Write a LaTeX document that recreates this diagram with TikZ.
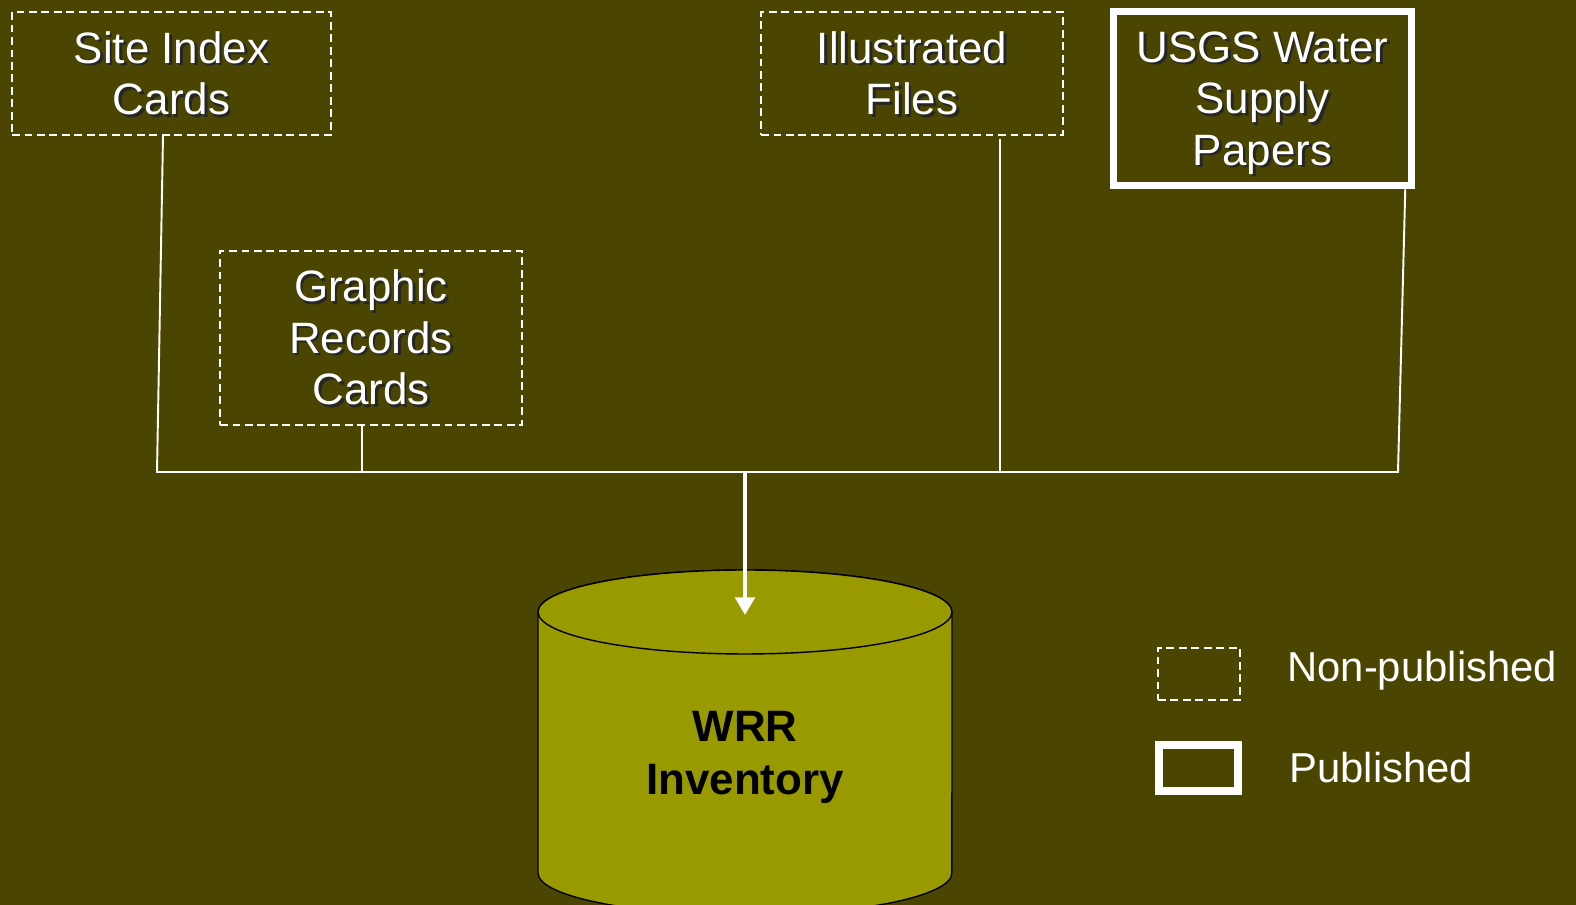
\documentclass[tikz,border=0pt]{standalone}
\usepackage{fontspec}
\setmainfont{Liberation Sans}
\usetikzlibrary{arrows.meta}
\definecolor{olivebg}{RGB}{74,69,0}
\definecolor{dbfill}{RGB}{153,153,0}
\newcommand{\shtxt}[1]{\raisebox{-3.6pt}[\height][\depth]{\rlap{\kern1.5pt\raisebox{-1.5pt}{\color{black!85}\begin{tabular}{@{}c@{}}#1\end{tabular}}}\begin{tabular}{@{}c@{}}#1\end{tabular}}}
\tikzset{
  srcbox/.style={draw=white, dash pattern=on 4.5pt off 2.6pt, line width=1.1pt, text=white, inner sep=0pt, font=\fontsize{25}{29.3}\selectfont},
  pubbox/.style={draw=white, line width=4.3pt, text=white, inner sep=0pt, font=\fontsize{25}{29.3}\selectfont},
  link/.style={white, line width=1.1pt},
  arrowlink/.style={white, line width=2.3pt, -{Triangle[width=11pt,length=10pt]}},
  dbline/.style={draw=black, fill=dbfill, line width=0.8pt},
  keytext/.style={text=white, inner sep=0pt, font=\fontsize{23.8}{28}\selectfont},
}

\begin{document}
\begin{tikzpicture}[x=0.02cm,y=0.02cm]
    \useasboundingbox (0,0) rectangle (1576,905);
    \fill[olivebg] (0,0) rectangle (1576,905);

    \node[srcbox, minimum width=6.38cm, minimum height=2.46cm] (site) at (171.5,831.5) {\shtxt{Site Index\\Cards}};
    \node[srcbox, minimum width=6.04cm, minimum height=3.48cm] (graphic) at (371,567) {\shtxt{Graphic\\Records\\Cards}};
    \node[srcbox, minimum width=6.04cm, minimum height=2.46cm] (illus) at (912,831.5) {\shtxt{Illustrated\\Files}};
    \node[pubbox, minimum width=5.96cm, minimum height=3.48cm] (usgs) at (1262.5,806.5) {\shtxt{USGS Water\\Supply\\Papers}};

    % database
    \filldraw[dbline] (538,293) -- (538,32) arc[start angle=180, end angle=360, x radius=4.14cm, y radius=0.84cm] -- (952,293) arc[start angle=0, end angle=180, x radius=4.14cm, y radius=0.84cm] -- cycle;
    \draw[dbline] (745,293) ellipse [x radius=4.14cm, y radius=0.84cm];
    \node[font=\bfseries\fontsize{25}{30}\selectfont, align=center, inner sep=0pt] (wrr) at (745,147.5) {WRR\\Inventory};

    \coordinate (busL) at (157,433);
    \coordinate (busR) at (1398,433);
    \coordinate (busG) at (362,433);
    \coordinate (busI) at (1000,433);
    \coordinate (busA) at (745,433);
    \coordinate (dbtop) at (745,290);

    \draw[link] ([xshift=-0.17cm]site.south) -- (busL) -- (busR) -- ([xshift=-0.2cm]usgs.south east);
    \draw[link] ([xshift=-0.18cm]graphic.south) -- (busG);
    \draw[link] ([xshift=1.76cm,yshift=-0.06cm]illus.south) -- (busI);
    \draw[arrowlink] (busA) -- (dbtop);

    % legend
    \node[srcbox, minimum width=1.64cm, minimum height=1.04cm] (keynp) at (1199,231) {};
    \node[pubbox, minimum width=1.58cm, minimum height=0.92cm] (keyp) at (1198.5,137) {};
    \node[keytext, anchor=base west] (npl) at (1287,223) {Non-published};
    \node[keytext, anchor=base west] (pl) at (1289,122) {Published};
\end{tikzpicture}
\end{document}
